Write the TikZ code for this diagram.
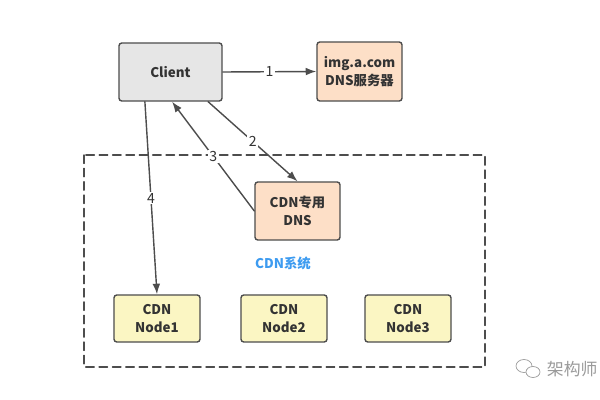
\documentclass[tikz,border=0pt]{standalone}
\usepackage{fontspec}
\setmainfont{Noto Sans CJK SC}
\usetikzlibrary{arrows.meta}
\definecolor{boxline}{HTML}{4D4D4D}
\definecolor{clientfill}{HTML}{E6E6E6}
\definecolor{dnsfill}{HTML}{FDDFC7}
\definecolor{nodefill}{HTML}{FBF6C3}
\definecolor{cdnblue}{HTML}{3D9BF0}
\definecolor{markgray}{HTML}{9A9A9A}
\begin{document}
\begin{tikzpicture}[x=0.025cm,y=-0.025cm,line cap=round,line join=round,
  box/.style={draw=boxline,line width=1pt,rounded corners=2pt,align=center,
    font=\fontsize{9.5}{12.5}\selectfont\bfseries,text=black!80,inner sep=0pt},
  conn/.style={draw=boxline,line width=1pt,-{Latex[length=7.5pt,width=5.5pt]}},
  tag/.style={fill=white,inner sep=1pt,font=\fontsize{10}{11}\selectfont,text=black!80}]
  \useasboundingbox (0,0) rectangle (600,400);
  % CDN system frame
  \draw[boxline,line width=1pt,dash pattern=on 6pt off 3.5pt] (84,155) rectangle (485,367);
  \node[text=cdnblue,font=\fontsize{9.5}{11}\selectfont\bfseries] (cdnsys) at (283,263) {CDN系统};
  % boxes
  \node[box,fill=clientfill,minimum width=2.575cm,minimum height=1.45cm] (client) at (170.5,72) {Client};
  \node[box,fill=dnsfill,minimum width=2.125cm,minimum height=1.475cm] (dns) at (359.5,71.5) {img.a.com\\DNS服务器};
  \node[box,fill=dnsfill,minimum width=2.125cm,minimum height=1.45cm] (cdndns) at (297.5,211) {CDN专用\\DNS};
  \node[box,fill=nodefill,minimum width=2.15cm,minimum height=1.175cm] (node1) at (157,318.5) {CDN\\Node1};
  \node[box,fill=nodefill,minimum width=2.15cm,minimum height=1.175cm] (node2) at (284,318.5) {CDN\\Node2};
  \node[box,fill=nodefill,minimum width=2.15cm,minimum height=1.175cm] (node3) at (408,318.5) {CDN\\Node3};
  % connectors
  \draw[conn] (client.east) -- node[tag] {1} (dns.west);
  \draw[conn] ([xshift=0.94cm]client.south) -- node[tag] {2} (cdndns.north);
  \draw[conn] (cdndns.west) -- node[tag] {3} ([xshift=0.04cm]client.south);
  \draw[conn] ([xshift=-0.64cm]client.south) -- node[tag] {4} (node1.north);
  % watermark
  \draw[markgray,line width=0.5pt] (524,366) ellipse (8 and 6.5);
  \draw[markgray,line width=0.5pt,fill=white] (533,372) ellipse (7 and 5.5);
  \node[anchor=west,text=markgray,font=\fontsize{12}{14}\selectfont] (mark) at (542,369) {架构师};
\end{tikzpicture}
\end{document}
